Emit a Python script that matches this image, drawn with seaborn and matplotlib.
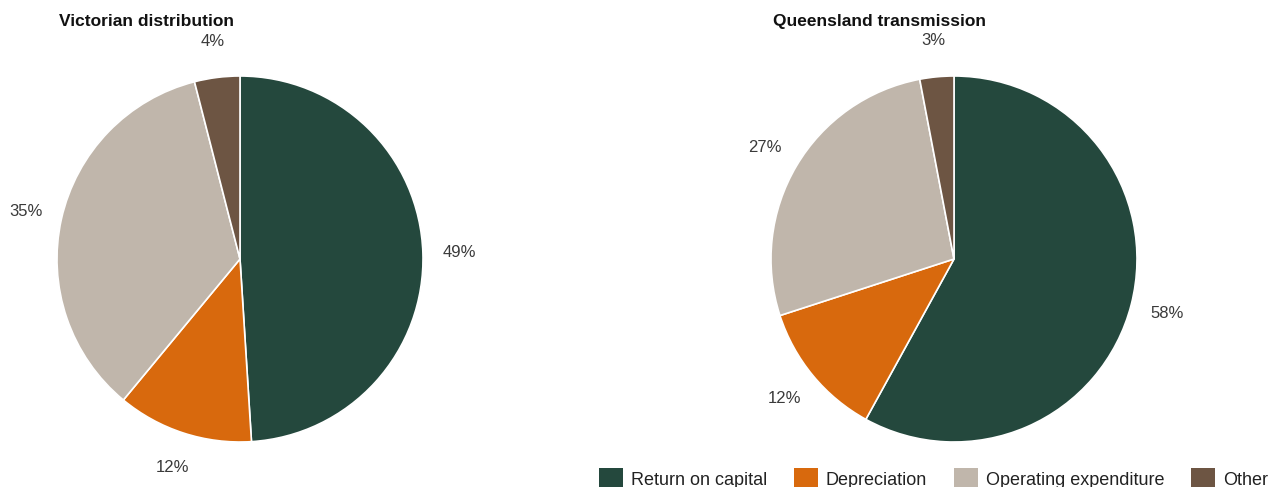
import matplotlib
matplotlib.use("Agg")
import matplotlib.pyplot as plt
import seaborn as sns
from matplotlib.patches import Patch

categories = ["Return on capital", "Depreciation", "Operating expenditure", "Other"]
vic_values = [49, 12, 35, 4]
qld_values = [58, 12, 27, 3]
titles = ["Victorian distribution", "Queensland transmission"]
colors = sns.color_palette(["#24483d", "#d8690d", "#c0b6ab", "#6d5543"])

sns.set_theme(style="white")
plt.rcParams["font.family"] = ["Liberation Sans", "DejaVu Sans"]

fig = plt.figure(figsize=(12.72, 4.87), dpi=100)
W, H = 1272, 487
R = 183
centers = [(240, 259), (954, 259)]

for (cx, cy), vals, title in zip(centers, [vic_values, qld_values], titles):
    ax = fig.add_axes([(cx - R) / W, (H - cy - R) / H, 2 * R / W, 2 * R / H])
    ax.pie(vals, colors=colors, startangle=90, counterclock=False,
           autopct=lambda p: f"{p:.0f}%", pctdistance=1.2,
           wedgeprops=dict(edgecolor="white", linewidth=1.2),
           textprops=dict(fontsize=12, color="#3a3a3a"))
    ax.set_aspect("equal")
    ax.set_xlim(-1, 1)
    ax.set_ylim(-1, 1)
    ax.axis("off")
    ax.text(0.005, 1.15, title, transform=ax.transAxes, ha="left", va="center",
            fontsize=12.5, fontweight="bold", color="#111111")

handles = [Patch(facecolor=c, edgecolor="none", label=l) for c, l in zip(colors, categories)]
fig.legend(handles=handles, loc="center right", bbox_to_anchor=(1.004, 0.017),
           ncol=4, frameon=False, fontsize=13, handlelength=1.3, handleheight=1.4,
           handletextpad=0.45, columnspacing=1.5, borderpad=0, labelcolor="#222222")

fig.savefig("out.png", dpi=100)
